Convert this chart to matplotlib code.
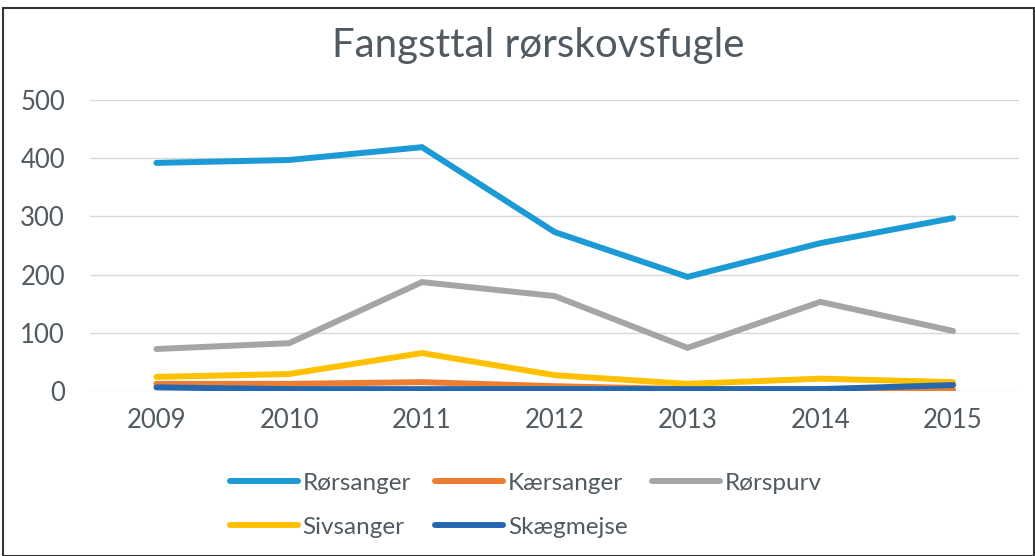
import matplotlib
matplotlib.use("Agg")
import matplotlib.pyplot as plt
import numpy as np

aar = ["2009", "2010", "2011", "2012", "2013", "2014", "2015"]
roersanger = [392, 397, 419, 273, 196, 254, 297]
kaersanger = [12, 12, 15, 8, 3, 3, 2]
roerspurv = [72, 82, 187, 163, 74, 153, 103]
sivsanger = [24, 29, 65, 27, 12, 21, 15]
skaegmejse = [6, 3, 3, 3, 3, 3, 10]

plt.rcParams['font.family'] = ['Lato', 'DejaVu Sans']
tekst = "#505A60"

fig = plt.figure(figsize=(10.35, 5.56), dpi=100)
ax = fig.add_axes([0.087, 0.297, 0.898, 0.523])

x = np.arange(len(aar))
serier = [
    ("Rørsanger", roersanger, "#1C9AD6"),
    ("Kærsanger", kaersanger, "#ED7D31"),
    ("Rørspurv", roerspurv, "#A5A5A5"),
    ("Sivsanger", sivsanger, "#FFC000"),
    ("Skægmejse", skaegmejse, "#2568B0"),
]
linjer = {}
for navn, v, farve in serier:
    linjer[navn], = ax.plot(x, v, color=farve, lw=4.3, label=navn,
                            solid_capstyle="round", solid_joinstyle="miter")

ax.set_xlim(-0.5, len(aar) - 0.5)
ax.set_ylim(0, 500)
ax.set_yticks(range(0, 501, 100))
ax.set_xticks(x)
ax.set_xticklabels(aar)
ax.grid(axis="y", color="#D9D9D9", lw=1)
ax.set_axisbelow(True)
for s in ax.spines.values():
    s.set_visible(False)
ax.tick_params(length=0, labelsize=18.5, colors=tekst, pad=12)
ax.tick_params(axis="y", pad=18)

fig.text(0.52, 0.918, "Fangsttal rørskovsfugle", ha="center", va="center", fontsize=29, color=tekst)

# legend order row by row (matplotlib fills column by column)
orden = ["Rørsanger", "Sivsanger", "Kærsanger", "Skægmejse", "Rørspurv"]
leg = fig.legend([linjer[n] for n in orden], orden, loc="center", bbox_to_anchor=(0.508, 0.091),
                 ncol=3, frameon=False, fontsize=17.5, handlelength=2.8, columnspacing=1.0,
                 handletextpad=0.2, labelspacing=0.95)
for t in leg.get_texts():
    t.set_color(tekst)

fig.patches.append(plt.Rectangle((0.003, 0.0), 0.996, 0.985, transform=fig.transFigure,
                                 fill=False, edgecolor="#333333", lw=1.5))

fig.savefig("out.png", dpi=100)
